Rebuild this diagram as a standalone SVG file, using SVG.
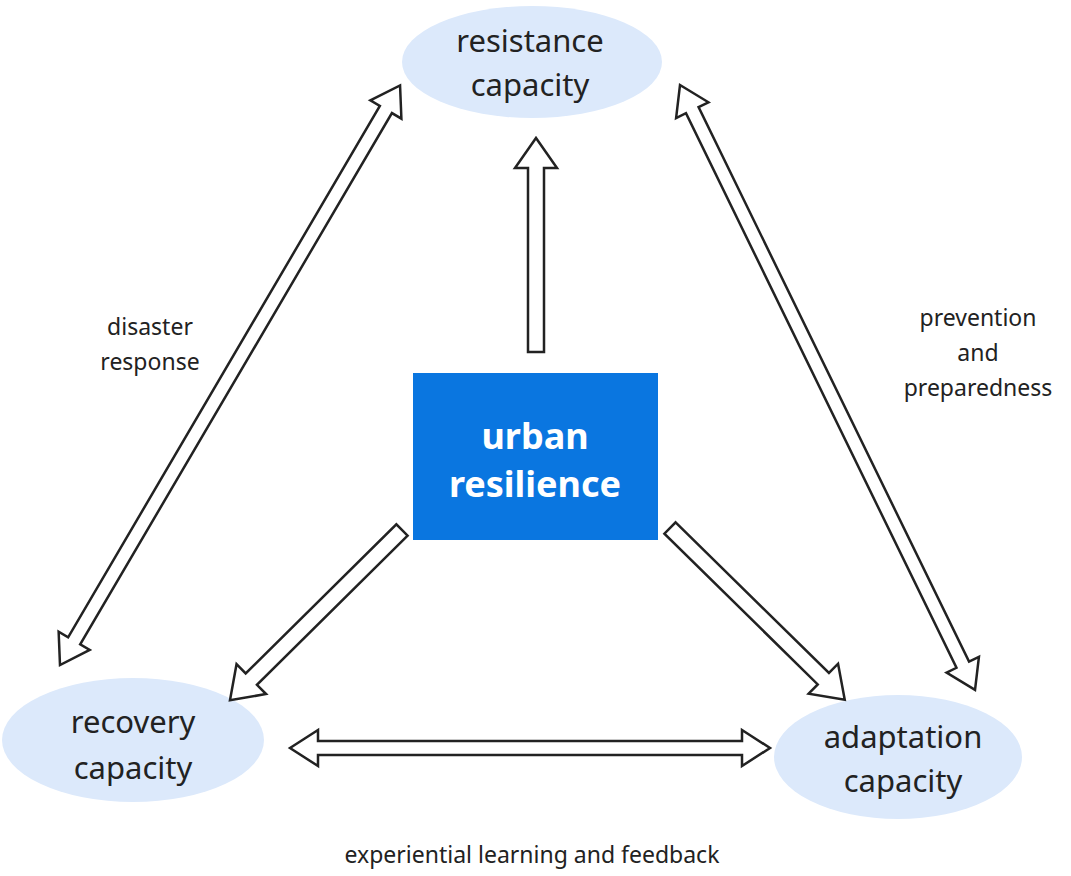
<svg xmlns="http://www.w3.org/2000/svg" width="1071" height="876" viewBox="0 0 1071 876">
<style>
.n{fill:#dce9fb}
.t{font-family:"Noto Sans","Open Sans",sans-serif;fill:#222;text-anchor:middle}
.big{font-size:31px}
.lab{font-size:23px}
.a{fill:#fff;stroke:#222;stroke-width:2.5;stroke-linejoin:miter}
</style>
<rect width="1071" height="876" fill="#fff"/>
<g id="resistance"><ellipse class="n" cx="532" cy="62" rx="130" ry="56"/><text class="t big" x="530" y="52">resistance</text><text class="t big" x="530" y="96">capacity</text></g>
<g id="recovery"><ellipse class="n" cx="133" cy="740" rx="131" ry="62"/><text class="t big" x="133" y="733">recovery</text><text class="t big" x="133" y="779">capacity</text></g>
<g id="adaptation"><ellipse class="n" cx="898" cy="757" rx="124" ry="62"/><text class="t big" x="903" y="748">adaptation</text><text class="t big" x="903" y="792">capacity</text></g>
<g id="urban"><rect x="413" y="373" width="245" height="167" fill="#0a76e0"/><text class="t" x="535" y="449" font-size="36" font-weight="bold" fill="#fff" style="fill:#fff">urban</text><text class="t" x="535" y="497" font-size="36" font-weight="bold" style="fill:#fff">resilience</text></g>
<g id="connectors">
<polygon class="a" transform="translate(60,665) rotate(-59.6)" points="0,0 28,-18 28,-7 644,-7 644,-18 672,0 644,18 644,7 28,7 28,18"/>
<polygon class="a" transform="translate(680,85) rotate(64)" points="0,0 28,-18 28,-7 645,-7 645,-18 673,0 645,18 645,7 28,7 28,18"/>
<polygon class="a" transform="translate(290,748)" points="0,0 28,-18 28,-7 452,-7 452,-18 480,0 452,18 452,7 28,7 28,18"/>
<polygon class="a" transform="translate(536,352) rotate(-90)" points="0,-8 184,-8 184,-21 214,0 184,21 184,8 0,8"/>
<polygon class="a" transform="translate(402,530) rotate(135.3)" points="0,-8 212,-8 212,-21 242,0 212,21 212,8 0,8"/>
<polygon class="a" transform="translate(670,528) rotate(44.5)" points="0,-8 215,-8 215,-21 245,0 215,21 215,8 0,8"/>
</g>
<text class="t lab" x="150" y="335">disaster</text>
<text class="t lab" x="150" y="370">response</text>
<text class="t lab" x="978" y="326">prevention</text>
<text class="t lab" x="978" y="361">and</text>
<text class="t lab" x="978" y="396">preparedness</text>
<text class="t lab" x="532" y="863">experiential learning and feedback</text>
</svg>
